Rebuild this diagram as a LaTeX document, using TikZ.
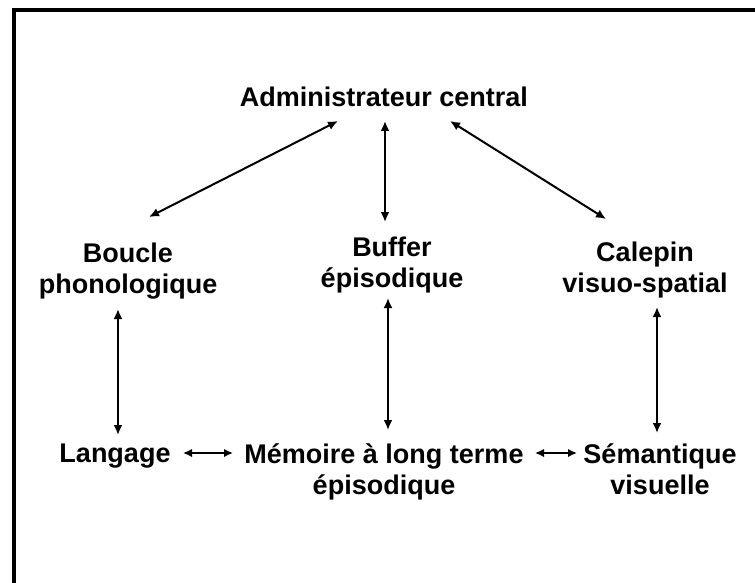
\documentclass[tikz,border=0pt]{standalone}
\usepackage{fontspec}
\setmainfont{Liberation Sans}
\usetikzlibrary{arrows.meta}

\begin{document}
\begin{tikzpicture}[
    x=1pt, y=-1pt,
    lbl/.style={font=\bfseries\fontsize{27}{31}\selectfont, align=center, inner sep=0pt},
    link/.style={line width=2pt, {Latex[length=10pt,width=9pt]}-{Latex[length=10pt,width=9pt]}},
    short/.style={line width=2pt, {Latex[length=9pt,width=8.5pt]}-{Latex[length=9pt,width=8.5pt]}},
]
\useasboundingbox (0,0) rectangle (755,583);

% Frame (left and top only)
\draw[line width=4pt, line join=miter] (13.5,583) -- (13.5,10) -- (755,10);

% Components
\node[lbl] (admin) at (384,97) {Administrateur central};
\node[lbl] (boucle) at (128,271) {Boucle\\phonologique};
\node[lbl] (buffer) at (392,265) {Buffer\\épisodique};
\node[lbl] (calepin) at (645,270) {Calepin\\visuo-spatial};
\node[lbl] (langage) at (115,456) {Langage};
\node[lbl] (memoire) at (384,472) {Mémoire à long terme\\épisodique};
\node[lbl] (semantique) at (660,469) {Sémantique\\visuelle};

% Links to the central administrator
\draw[link] ([shift={(-46,24)}]admin.center) -- ([shift={(21,-54)}]boucle.center);
\draw[link] ([shift={(1,24)}]admin.center) -- ([shift={(-7,-43)}]buffer.center);
\draw[link] ([shift={(66,24)}]admin.center) -- ([shift={(-39,-51)}]calepin.center);

% Links to long-term memory
\draw[link] ([shift={(-10,38)}]boucle.center) -- ([shift={(3,-21)}]langage.center);
\draw[link] ([shift={(-4,33)}]buffer.center) -- ([shift={(4,-42)}]memoire.center);
\draw[link] ([shift={(12,37)}]calepin.center) -- ([shift={(-3,-36)}]semantique.center);
\draw[short] ([shift={(68,-3)}]langage.center) -- ([shift={(-151,-19)}]memoire.center);
\draw[short] ([shift={(151,-19)}]memoire.center) -- ([shift={(-83,-16)}]semantique.center);

\end{tikzpicture}
\end{document}
